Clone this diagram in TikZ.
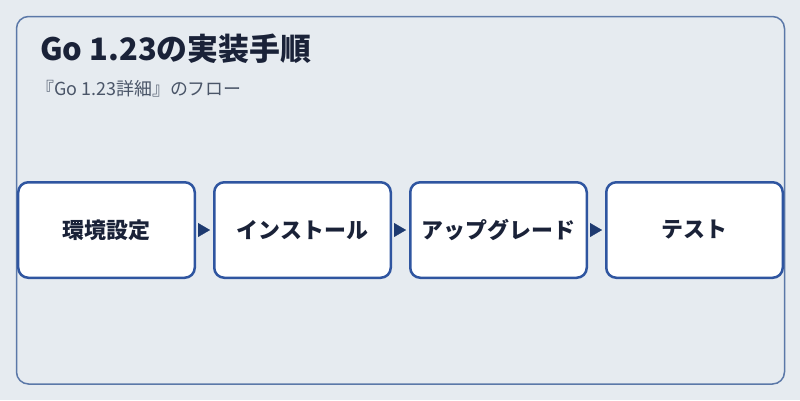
\documentclass[tikz,border=0pt]{standalone}
\usepackage{fontspec}
\newfontfamily\jpfont{Noto Sans CJK JP}
\usetikzlibrary{positioning,arrows.meta}
\definecolor{sfondo}{HTML}{E6EBF0}
\definecolor{cornice}{HTML}{5B78A8}
\definecolor{bordo}{HTML}{2F55A0}
\definecolor{testo}{HTML}{1A2238}
\definecolor{sottotesto}{HTML}{4A5568}
\definecolor{punta}{HTML}{1E3A70}

\begin{document}
\begin{tikzpicture}[x=1bp,y=-1bp,
    fase/.style={draw=bordo, line width=2.5bp, fill=white, rounded corners=10bp,
      minimum width=176.5bp, minimum height=95.5bp, inner sep=0pt,
      font=\jpfont\bfseries\fontsize{22}{26}\selectfont, text=testo},
    freccia/.style={-{Triangle[length=12bp,width=14bp]}, draw=punta, fill=punta,
      line width=0.2bp, shorten <=2bp, shorten >=3bp},
    node distance=17bp]
    % Sfondo e cornice
    \fill[sfondo] (0,0) rectangle (800,400);
    \draw[cornice, line width=1.5bp, rounded corners=12bp] (16.5,16.5) rectangle (784.5,384);
    % Titolo e sottotitolo
    \node[anchor=base west, inner sep=0pt, text=testo, font=\jpfont\bfseries\fontsize{31}{36}\selectfont] (titolo) at (40,60) {Go 1.23の実装手順};
    \node[anchor=base west, inner sep=0pt, text=sottotesto, font=\jpfont\fontsize{18}{22}\selectfont] (sottotitolo) at (36,95) {『Go 1.23詳細』のフロー};
    % Le fasi
    \node[fase] (env) at (106.5,230) {環境設定};
    \node[fase, right=of env] (install) {インストール};
    \node[fase, right=of install] (upgrade) {アップグレード};
    \node[fase, right=of upgrade] (test) {テスト};
    % Frecce tra le fasi
    \draw[freccia] (env) -- (install);
    \draw[freccia] (install) -- (upgrade);
    \draw[freccia] (upgrade) -- (test);
\end{tikzpicture}
\end{document}
